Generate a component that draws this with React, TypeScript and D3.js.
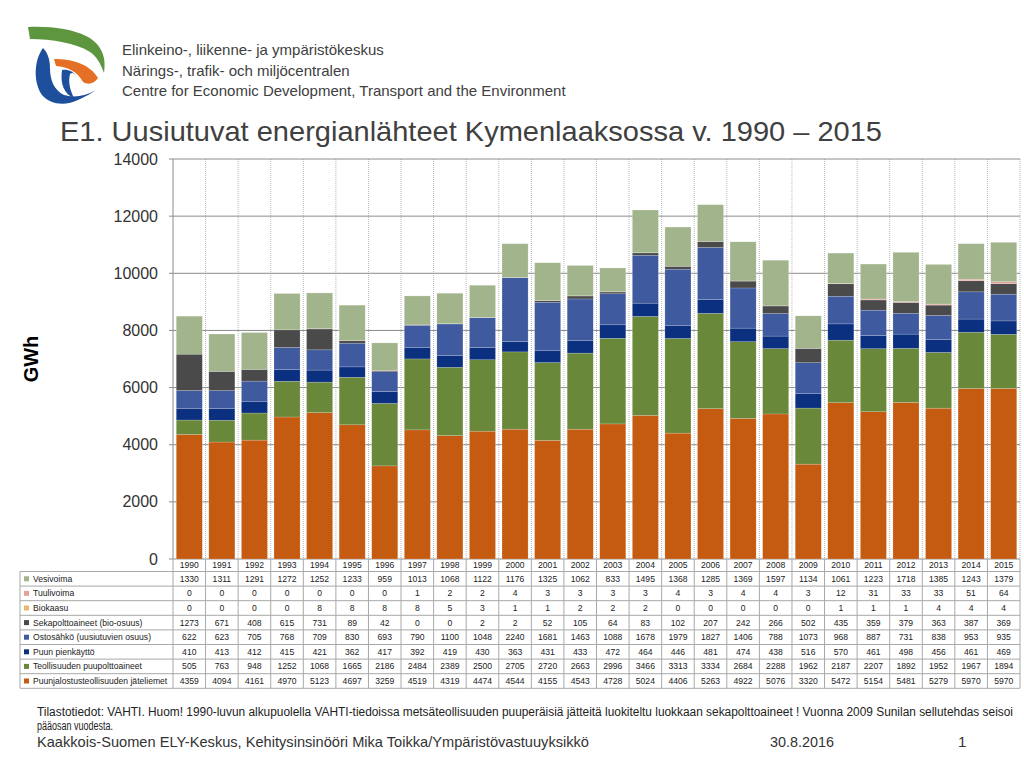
import React from 'react';
import * as d3 from 'd3';

const years = ['1990', '1991', '1992', '1993', '1994', '1995', '1996', '1997', '1998', '1999', '2000', '2001', '2002', '2003', '2004', '2005', '2006', '2007', '2008', '2009', '2010', '2011', '2012', '2013', '2014', '2015'];

// bottom of the stack first
const jateliemet = [4359, 4094, 4161, 4970, 5123, 4697, 3259, 4519, 4319, 4474, 4544, 4155, 4543, 4728, 5024, 4406, 5263, 4922, 5076, 3320, 5472, 5154, 5481, 5279, 5970, 5970];
const puupolttoaineet = [505, 763, 948, 1252, 1068, 1665, 2186, 2484, 2389, 2500, 2705, 2720, 2663, 2996, 3466, 3313, 3334, 2684, 2288, 1962, 2187, 2207, 1892, 1952, 1967, 1894];
const pienkaytto = [410, 413, 412, 415, 421, 362, 417, 392, 419, 430, 363, 431, 433, 472, 464, 446, 481, 474, 438, 516, 570, 461, 498, 456, 461, 469];
const ostosahko = [622, 623, 705, 768, 709, 830, 693, 790, 1100, 1048, 2240, 1681, 1463, 1088, 1678, 1979, 1827, 1406, 788, 1073, 968, 887, 731, 838, 953, 935];
const sekapolttoaineet = [1273, 671, 408, 615, 731, 89, 42, 0, 0, 2, 2, 52, 105, 64, 83, 102, 207, 242, 266, 502, 435, 359, 379, 363, 387, 369];
const biokaasu = [0, 0, 0, 0, 8, 8, 8, 8, 5, 3, 1, 1, 2, 2, 2, 0, 0, 0, 0, 0, 1, 1, 1, 4, 4, 4];
const tuulivoima = [0, 0, 0, 0, 0, 0, 0, 1, 2, 2, 4, 3, 3, 3, 3, 4, 3, 4, 4, 3, 12, 31, 33, 33, 51, 64];
const vesivoima = [1330, 1311, 1291, 1272, 1252, 1233, 959, 1013, 1068, 1122, 1176, 1325, 1062, 833, 1495, 1368, 1285, 1369, 1597, 1134, 1061, 1223, 1718, 1385, 1243, 1379];

const yTicks = [0, 2000, 4000, 6000, 8000, 10000, 12000, 14000];

const series = [
  { name: 'Puunjalostusteollisuuden jäteliemet', values: jateliemet, color: '#c55a11' },
  { name: 'Teollisuuden puupolttoaineet', values: puupolttoaineet, color: '#6a883a' },
  { name: 'Puun pienkäyttö', values: pienkaytto, color: '#0c3080' },
  { name: 'Ostosähkö (uusiutuvien osuus)', values: ostosahko, color: '#3f5a9e' },
  { name: 'Sekapolttoaineet (bio-osuus)', values: sekapolttoaineet, color: '#4a4a4a' },
  { name: 'Biokaasu', values: biokaasu, color: '#e9b86a' },
  { name: 'Tuulivoima', values: tuulivoima, color: '#e4a297' },
  { name: 'Vesivoima', values: vesivoima, color: '#a2b48c' },
];

const font = 'Liberation Sans, Arial, sans-serif';

export default function App() {
  const W = 1024, H = 762;
  const left = 173, right = 1020, top = 159, bottom = 559;

  const x = d3.scaleBand<string>().domain(years).range([left, right]).paddingInner(0.2).paddingOuter(0.1);
  const y = d3.scaleLinear().domain([0, 14000]).range([bottom, top]);
  const step = x.step();

  const rows = years.map((yr, i) => {
    const r: any = { year: yr };
    series.forEach((s) => (r[s.name] = s.values[i]));
    return r;
  });
  const stacked = d3.stack<any>().keys(series.map((s) => s.name))(rows);

  const tableTop = 571.5;
  const rowH = 14.6;
  const tableRows = [...series].reverse();
  const tableLeft = 20;

  return (
    <svg width={W} height={H} style={{ position: 'absolute', left: 0, top: 0, background: '#fff' }} fontFamily={font}>
      {/* logo */}
      <g>
        <path d="M28,27 C50,26 72,29 86,36 C100,43 107,55 104,73 C100,62 96,56 90,52 C76,43 52,39 30,39 Z" fill="#5e9640" />
        <path d="M43,48 C34,60 33,82 42,95 C50,105 66,106 78,100 C86,96 92,93 96,90 C86,96 74,98 64,95 C54,90 50,80 50,68 C50,60 48,53 43,48 Z" fill="#1d4f9c" />
        <path d="M54,59 C72,59 90,64 98,78 C94,84 88,85 83,82 C78,72 68,67 56,66 Z" fill="#e56f24" />
        <path d="M62,70 C60,84 64,94 74,98 C70,90 68,82 70,74 C72,72 74,73 76,76 C74,72 68,69 62,70 Z" fill="#1d4f9c" />
      </g>
      <g fill="#404040" fontSize={15}>
        <text x={122} y={55}>Elinkeino-, liikenne- ja ympäristökeskus</text>
        <text x={122} y={76}>Närings-, trafik- och miljöcentralen</text>
        <text x={122} y={96}>Centre for Economic Development, Transport and the Environment</text>
      </g>
      <text x={60} y={141} fontSize={28} fill="#404040" textLength={822} lengthAdjust="spacingAndGlyphs">
        E1. Uusiutuvat energianlähteet Kymenlaaksossa v. 1990 – 2015
      </text>

      {/* grid */}
      {years.map((yr, i) => (
        <line key={yr} x1={left + step * (i + 1)} x2={left + step * (i + 1)} y1={top} y2={bottom} stroke="#b8b8b8" strokeDasharray="1,1" />
      ))}
      {yTicks.map((t) => (
        <g key={t}>
          <line x1={left - 4} x2={right} y1={y(t)} y2={y(t)} stroke="#8c8c8c" strokeWidth={1} />
          <text x={158} y={y(t)} dy="0.35em" textAnchor="end" fontSize={16} fill="#333">{t}</text>
        </g>
      ))}
      <line x1={left} x2={left} y1={top} y2={bottom} stroke="#8c8c8c" />
      <text transform={`translate(38,${(top + bottom) / 2}) rotate(-90)`} textAnchor="middle" fontSize={20} fontWeight="bold" fill="#000">GWh</text>

      {/* bars */}
      {stacked.map((layer, li) => (
        <g key={layer.key} fill={series[li].color}>
          {layer.map((d, i) => {
            const h = y(d[0]) - y(d[1]);
            if (h <= 0) return null;
            return <rect key={i} x={x(years[i])} y={y(d[1])} width={x.bandwidth()} height={h} stroke="#ffffff" strokeOpacity={0.35} strokeWidth={0.5} />;
          })}
        </g>
      ))}

      {/* data table */}
      <g fontSize={8.6} fill="#222">
        {years.map((yr, i) => (
          <text key={yr} x={left + step * (i + 0.5)} y={565} dy="0.35em" textAnchor="middle">{yr}</text>
        ))}
        {tableRows.map((s, ri) => (
          <g key={s.name}>
            <rect x={tableLeft + 4} y={tableTop + ri * rowH + rowH / 2 - 2.5} width={5} height={5} fill={s.color} />
            <text x={tableLeft + 13} y={tableTop + ri * rowH + rowH / 2} dy="0.35em">{s.name}</text>
            {s.values.map((v, i) => (
              <text key={i} x={left + step * (i + 0.5)} y={tableTop + ri * rowH + rowH / 2} dy="0.35em" textAnchor="middle">{v}</text>
            ))}
          </g>
        ))}
      </g>
      <g stroke="#a8a8a8" strokeWidth={1} fill="none">
        {d3.range(tableRows.length + 1).map((k) => (
          <line key={'h' + k} x1={tableLeft} x2={right} y1={tableTop + k * rowH} y2={tableTop + k * rowH} />
        ))}
        <line x1={tableLeft} x2={tableLeft} y1={tableTop} y2={tableTop + tableRows.length * rowH} />
        {d3.range(years.length + 1).map((k) => (
          <line key={'v' + k} x1={left + k * step} x2={left + k * step} y1={bottom} y2={tableTop + tableRows.length * rowH} />
        ))}
      </g>

      {/* footer */}
      <g fill="#222" fontSize={12}>
        <text x={37} y={716} textLength={976} lengthAdjust="spacingAndGlyphs">
          Tilastotiedot: VAHTI. Huom! 1990-luvun alkupuolella VAHTI-tiedoissa metsäteollisuuden puuperäisiä jätteitä luokiteltu luokkaan sekapolttoaineet ! Vuonna 2009 Sunilan sellutehdas seisoi
        </text>
        <text x={37} y={730} textLength={76} lengthAdjust="spacingAndGlyphs">pääosan vuodesta.</text>
      </g>
      <g fill="#333" fontSize={15}>
        <text x={37} y={747} textLength={552} lengthAdjust="spacingAndGlyphs">Kaakkois-Suomen ELY-Keskus, Kehitysinsinööri Mika Toikka/Ympäristövastuuyksikkö</text>
        <text x={770} y={747} textLength={64} lengthAdjust="spacingAndGlyphs">30.8.2016</text>
        <text x={958} y={747}>1</text>
      </g>
    </svg>
  );
}
